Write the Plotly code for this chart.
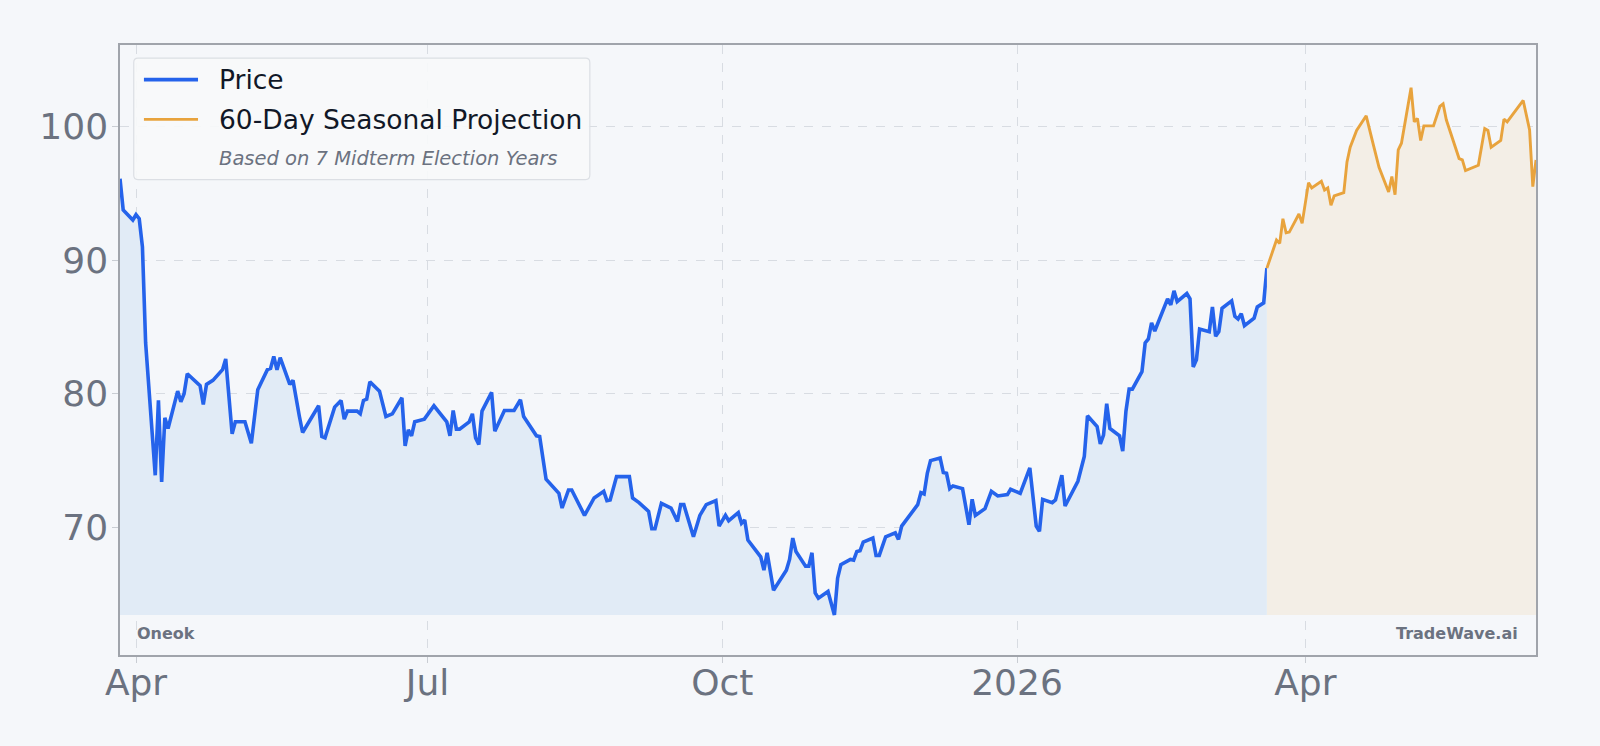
import plotly.graph_objects as go

# ---------------- data ----------------
price_dates = [
    "2025-03-27", "2025-03-28", "2025-03-31", "2025-04-01", "2025-04-02", "2025-04-03", "2025-04-04",
    "2025-04-07", "2025-04-08", "2025-04-09", "2025-04-10", "2025-04-11", "2025-04-14", "2025-04-15",
    "2025-04-16", "2025-04-17", "2025-04-21", "2025-04-22", "2025-04-23", "2025-04-25", "2025-04-28",
    "2025-04-29", "2025-05-01", "2025-05-02", "2025-05-05", "2025-05-07", "2025-05-09", "2025-05-12",
    "2025-05-13", "2025-05-14", "2025-05-15", "2025-05-16", "2025-05-19", "2025-05-20", "2025-05-22",
    "2025-05-23", "2025-05-28", "2025-05-29", "2025-05-30", "2025-06-02", "2025-06-04", "2025-06-05",
    "2025-06-06", "2025-06-09", "2025-06-10", "2025-06-11", "2025-06-12", "2025-06-13", "2025-06-16",
    "2025-06-18", "2025-06-20", "2025-06-23", "2025-06-24", "2025-06-25", "2025-06-26", "2025-06-27",
    "2025-06-30", "2025-07-03", "2025-07-07", "2025-07-08", "2025-07-09", "2025-07-10", "2025-07-11",
    "2025-07-14", "2025-07-15", "2025-07-16", "2025-07-17", "2025-07-18", "2025-07-21", "2025-07-22",
    "2025-07-25", "2025-07-28", "2025-07-30", "2025-07-31", "2025-08-04", "2025-08-05", "2025-08-07",
    "2025-08-11", "2025-08-12", "2025-08-14", "2025-08-15", "2025-08-19", "2025-08-22", "2025-08-25",
    "2025-08-26", "2025-08-27", "2025-08-29", "2025-09-02", "2025-09-03", "2025-09-05", "2025-09-08",
    "2025-09-09", "2025-09-10", "2025-09-12", "2025-09-15", "2025-09-17", "2025-09-18", "2025-09-19",
    "2025-09-22", "2025-09-24", "2025-09-26", "2025-09-29", "2025-09-30", "2025-10-02", "2025-10-03",
    "2025-10-06", "2025-10-07", "2025-10-08", "2025-10-09", "2025-10-13", "2025-10-14", "2025-10-15",
    "2025-10-17", "2025-10-21", "2025-10-22", "2025-10-23", "2025-10-24", "2025-10-27", "2025-10-28",
    "2025-10-29", "2025-10-30", "2025-10-31", "2025-11-03", "2025-11-05", "2025-11-06", "2025-11-07",
    "2025-11-10", "2025-11-11", "2025-11-12", "2025-11-13", "2025-11-14", "2025-11-17", "2025-11-18",
    "2025-11-19", "2025-11-21", "2025-11-24", "2025-11-25", "2025-11-26", "2025-12-01", "2025-12-02",
    "2025-12-03", "2025-12-04", "2025-12-05", "2025-12-08", "2025-12-09", "2025-12-10", "2025-12-11",
    "2025-12-12", "2025-12-15", "2025-12-17", "2025-12-18", "2025-12-19", "2025-12-22", "2025-12-24",
    "2025-12-26", "2025-12-29", "2025-12-30", "2026-01-02", "2026-01-05", "2026-01-07", "2026-01-08",
    "2026-01-09", "2026-01-12", "2026-01-13", "2026-01-15", "2026-01-16", "2026-01-20", "2026-01-22",
    "2026-01-23", "2026-01-26", "2026-01-27", "2026-01-28", "2026-01-29", "2026-01-30", "2026-02-02",
    "2026-02-03", "2026-02-04", "2026-02-05", "2026-02-06", "2026-02-09", "2026-02-10", "2026-02-11",
    "2026-02-12", "2026-02-13", "2026-02-17", "2026-02-18", "2026-02-19", "2026-02-20", "2026-02-23",
    "2026-02-24", "2026-02-25", "2026-02-26", "2026-02-27", "2026-03-02", "2026-03-03", "2026-03-04",
    "2026-03-05", "2026-03-06", "2026-03-09", "2026-03-10", "2026-03-11", "2026-03-12", "2026-03-13",
    "2026-03-16", "2026-03-17", "2026-03-19", "2026-03-20",
]
price_values = [
    96.1, 93.75, 93.0, 93.4, 93.1, 91.0, 83.8,
    73.9, 79.5, 73.4, 78.2, 77.4, 80.2, 79.4,
    80.0, 81.5, 80.6, 79.2, 80.7, 81.0, 81.8,
    82.6, 77.0, 77.9, 77.9, 76.3, 80.3, 81.8,
    81.9, 82.8, 81.8, 82.7, 80.7, 81.0, 78.3,
    77.1, 79.1, 76.8, 76.7, 79.0, 79.5, 78.1,
    78.7, 78.7, 78.5, 79.5, 79.6, 80.9, 80.2,
    78.3, 78.5, 79.7, 76.1, 77.3, 76.85, 77.9,
    78.1, 79.1, 77.9, 76.85, 78.75, 77.35, 77.35,
    77.9, 78.5, 76.7, 76.2, 78.7, 80.1, 77.2,
    78.75, 78.75, 79.55, 78.3, 76.85, 76.8, 73.6,
    72.55, 71.45, 72.8, 72.8, 70.9, 72.2, 72.7,
    72.0, 72.05, 73.8, 73.8, 72.2, 71.85, 71.2,
    69.9, 69.9, 71.8, 71.45, 70.45, 71.7, 71.7,
    69.3, 70.9, 71.7, 72.0, 70.1, 70.9, 70.5,
    71.1, 70.3, 70.55, 69.05, 67.8, 66.8, 68.1,
    65.3, 66.8, 67.6, 69.2, 68.2, 67.1, 67.1,
    68.1, 65.1, 64.7, 65.2, 63.45, 66.2, 67.2,
    67.6, 67.55, 68.2, 68.25, 68.9, 69.2, 67.9,
    67.9, 69.3, 69.6, 69.1, 70.1, 71.7, 72.6,
    72.5, 74.05, 75.0, 75.2, 74.1, 74.05, 72.9,
    73.1, 72.9, 70.2, 72.1, 70.9, 71.4, 72.7,
    72.35, 72.45, 72.85, 72.55, 74.45, 70.1, 69.7,
    72.1, 71.85, 72.05, 73.9, 71.6, 73.45, 75.3,
    78.35, 77.55, 76.25, 76.9, 79.25, 77.4, 76.85,
    75.7, 78.7, 80.35, 80.35, 81.65, 83.8, 84.1,
    85.3, 84.7, 87.1, 86.65, 87.7, 86.9, 87.5,
    87.1, 82.0, 82.55, 84.85, 84.65, 86.5, 84.3,
    84.65, 86.4, 86.95, 85.8, 85.6, 86.0, 85.1,
    85.65, 86.5, 86.8, 89.4,
]

proj_dates = [
    "2026-03-20", "2026-03-23", "2026-03-24", "2026-03-25", "2026-03-26", "2026-03-27", "2026-03-30",
    "2026-03-31", "2026-04-02", "2026-04-03", "2026-04-06", "2026-04-07", "2026-04-08", "2026-04-09",
    "2026-04-10", "2026-04-13", "2026-04-14", "2026-04-15", "2026-04-17", "2026-04-20", "2026-04-22",
    "2026-04-24", "2026-04-27", "2026-04-28", "2026-04-29", "2026-04-30", "2026-05-01", "2026-05-04",
    "2026-05-05", "2026-05-06", "2026-05-07", "2026-05-08", "2026-05-11", "2026-05-13", "2026-05-14",
    "2026-05-15", "2026-05-19", "2026-05-20", "2026-05-21", "2026-05-25", "2026-05-27", "2026-05-28",
    "2026-05-29", "2026-06-01", "2026-06-02", "2026-06-03", "2026-06-08", "2026-06-09", "2026-06-10",
    "2026-06-11", "2026-06-12",
]
proj_values = [
    89.4, 91.5, 91.25, 93.1, 92.05, 92.1, 93.45,
    92.75, 95.8, 95.4, 95.9, 95.25, 95.4, 94.1,
    94.8, 95.05, 97.35, 98.45, 99.7, 100.8, 98.85,
    96.95, 95.1, 96.25, 94.9, 98.25, 98.75, 102.9,
    100.35, 100.6, 98.95, 100.05, 100.05, 101.5, 101.7,
    100.5, 97.6, 97.5, 96.7, 97.1, 99.85, 99.7,
    98.45, 98.95, 100.55, 100.35, 101.95, 100.85, 99.75,
    95.5, 97.5,
]

tick_dates = ["2025-04-01", "2025-07-01", "2025-10-01", "2026-01-01", "2026-04-01"]
tick_labels = ["Apr", "Jul", "Oct", "2026", "Apr"]
y_ticks = [70, 80, 90, 100]

ticker_name = "Oneok"
brand_name = "TradeWave.ai"
price_label = "Price"
proj_label = "60-Day Seasonal Projection"
note_label = "Based on 7 Midterm Election Years"

# ---------------- styling ----------------
BG = "#f5f7fa"
BLUE = "#2563eb"
ORANGE = "#e8a33d"
GREY = "#6b7280"
DARK = "#111827"
FONT = "DejaVu Sans"

base = min(min(price_values), min(proj_values))

fig = go.Figure()

# price area
fig.add_trace(go.Scatter(x=price_dates, y=[base] * len(price_dates), mode="lines",
                         line=dict(width=0), showlegend=False, hoverinfo="skip"))
fig.add_trace(go.Scatter(x=price_dates, y=price_values, mode="lines", name=price_label,
                         line=dict(color=BLUE, width=3.6), fill="tonexty",
                         fillcolor="#e1ebf6", showlegend=False))
# projection area
fig.add_trace(go.Scatter(x=proj_dates, y=[base] * len(proj_dates), mode="lines",
                         line=dict(width=0), showlegend=False, hoverinfo="skip"))
fig.add_trace(go.Scatter(x=proj_dates, y=proj_values, mode="lines", name=proj_label,
                         line=dict(color=ORANGE, width=2.9), fill="tonexty",
                         fillcolor="#f3eee6", showlegend=False))

axis_common = dict(
    showline=True, mirror=True, linecolor="#a0a4ab", linewidth=1.5,
    showgrid=True, gridcolor="#d8dce2", griddash="dash", gridwidth=1,
    ticks="outside", ticklen=6, tickcolor="#c9cdd3",
    tickfont=dict(size=36, color=GREY, family=FONT),
    zeroline=False,
)

fig.update_xaxes(type="date", range=[price_dates[0], proj_dates[-1]],
                 tickvals=tick_dates, ticktext=tick_labels, ticklabelstandoff=-11, **axis_common)
fig.update_yaxes(range=[60.45, 106.1], tickvals=y_ticks, ticklabelstandoff=-3, **axis_common)

# ---------- custom legend (box, line samples, labels) ----------
bx0, bx1, by0, by1 = 0.0097, 0.3318, 0.7793, 0.9784
rx, ry = 0.0030, 0.0070
box_path = (
    f"M {bx0 + rx},{by0} L {bx1 - rx},{by0} Q {bx1},{by0} {bx1},{by0 + ry} "
    f"L {bx1},{by1 - ry} Q {bx1},{by1} {bx1 - rx},{by1} "
    f"L {bx0 + rx},{by1} Q {bx0},{by1} {bx0},{by1 - ry} "
    f"L {bx0},{by0 + ry} Q {bx0},{by0} {bx0 + rx},{by0} Z"
)
fig.add_shape(type="path", path=box_path, xref="paper", yref="paper", layer="above",
              fillcolor="rgba(247,248,250,0.92)", line=dict(color="#dcdfe4", width=1.2))

legend_rows = [
    (price_label, BLUE, 3.6, 0.9433),
    (proj_label, ORANGE, 2.9, 0.8780),
]
sx0, sx1, tx = 0.0169, 0.0551, 0.0683
for label, color, w, yy in legend_rows:
    fig.add_shape(type="line", x0=sx0, x1=sx1, y0=yy, y1=yy, xref="paper", yref="paper",
                  layer="above", line=dict(color=color, width=w))
    fig.add_annotation(x=tx, y=yy, xref="paper", yref="paper", xanchor="left", yanchor="middle",
                       text=label, showarrow=False, font=dict(size=26.5, color=DARK, family=FONT))
fig.add_annotation(x=tx, y=0.8144, xref="paper", yref="paper", xanchor="left", yanchor="middle",
                   text=f"<i>{note_label}</i>", showarrow=False,
                   font=dict(size=19.5, color=GREY, family=FONT))

# ---------- corner labels ----------
fig.add_annotation(x=0.0108, y=0.036, xref="paper", yref="paper", xanchor="left", yanchor="middle",
                   text=f"<b>{ticker_name}</b>", showarrow=False,
                   font=dict(size=16, color=GREY, family=FONT))
fig.add_annotation(x=0.989, y=0.036, xref="paper", yref="paper", xanchor="right", yanchor="middle",
                   text=f"<b>{brand_name}</b>", showarrow=False,
                   font=dict(size=16, color=GREY, family=FONT))

fig.update_layout(
    width=1600, height=746,
    margin=dict(l=120, r=64, t=45, b=91),
    paper_bgcolor=BG, plot_bgcolor=BG,
    font=dict(family=FONT, color=DARK),
    showlegend=False,
)

fig.write_html("out.html")
